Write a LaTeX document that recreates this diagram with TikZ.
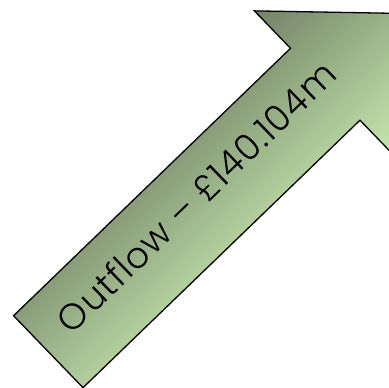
\documentclass[tikz,border=0pt]{standalone}
\usepackage{fontspec}
\setmainfont{Poppins Light}[LetterSpace=3]
\definecolor{arrowdark}{RGB}{115,130,102}
\definecolor{arrowlight}{RGB}{200,234,176}
\tikzset{
  bigarrow/.style={top color=arrowdark, bottom color=arrowlight, draw=black, line width=1.3pt, line join=miter},
  arrowtext/.style={font=\fontsize{36}{43}\selectfont, text=black, inner sep=0pt}
}
\begin{document}
\begin{tikzpicture}[x=1pt,y=1pt]
\useasboundingbox (0,0) rectangle (389,388);
\clip (0,0) rectangle (389,388);
\begin{scope}[transform canvas={shift={(48.3pt,36.3pt)},rotate=44}]
  \shade[bigarrow] (0,-50) -- (385,-50) -- (385,-102) -- (487,0) -- (385,102) -- (385,50) -- (0,50) -- cycle;
  \node[arrowtext] (label) at (214,9) {Outflow – £140.104m};
\end{scope}
\end{tikzpicture}
\end{document}
